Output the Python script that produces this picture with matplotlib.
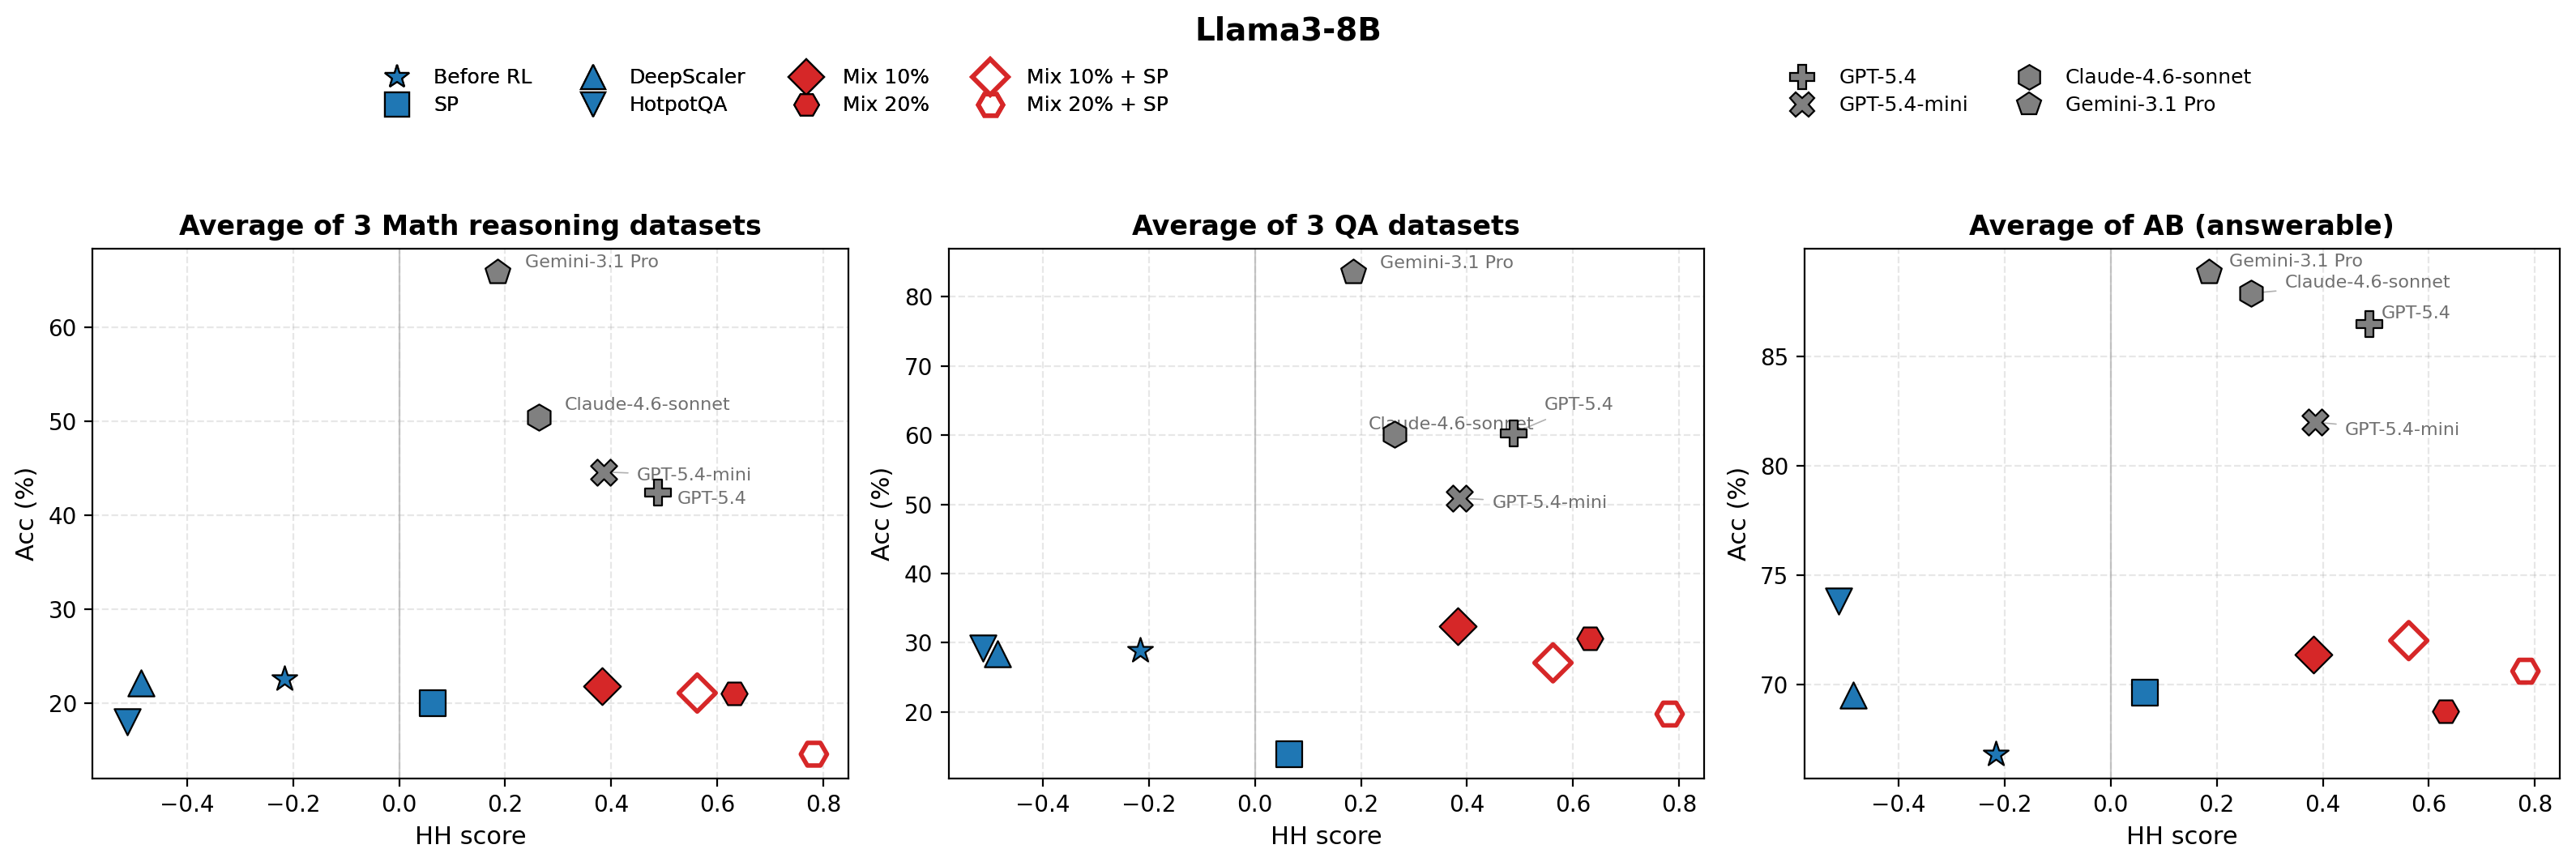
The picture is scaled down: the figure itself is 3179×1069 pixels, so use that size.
import numpy as np
import matplotlib

matplotlib.use("Agg")
import matplotlib.pyplot as plt
from matplotlib.lines import Line2D

# ---- data -------------------------------------------------------------
methods = [
    "Before RL", "SP", "DeepScaler", "HotpotQA",
    "Mix 10%", "Mix 20%", "Mix 10% + SP", "Mix 20% + SP",
    "GPT-5.4", "GPT-5.4-mini", "Claude-4.6-sonnet", "Gemini-3.1 Pro",
]
hh_score = [-0.217, 0.064, -0.486, -0.513, 0.383, 0.631, 0.562, 0.782,
            0.488, 0.386, 0.264, 0.185]

math_acc = [22.6, 20.0, 22.2, 18.0, 21.8, 21.1, 21.1, 14.6, 42.4, 44.6, 50.4, 65.8]
qa_acc = [28.9, 13.9, 28.4, 29.2, 32.4, 30.6, 27.1, 19.7, 60.3, 50.9, 60.1, 83.5]
ab_acc = [66.8, 69.6, 69.5, 73.8, 71.35, 68.75, 72.0, 70.6, 86.5, 82.0, 87.9, 88.85]

panel_titles = [
    "Average of 3 Math reasoning datasets",
    "Average of 3 QA datasets",
    "Average of AB (answerable)",
]
panel_values = [math_acc, qa_acc, ab_acc]
closed_models = ["GPT-5.4", "GPT-5.4-mini", "Claude-4.6-sonnet", "Gemini-3.1 Pro"]

# ---- styles -----------------------------------------------------------
BLUE, RED, GRAY = "#1f77b4", "#d62728", "#808080"
style = {
    "Before RL": dict(marker="*", fc=BLUE),
    "SP": dict(marker="s", fc=BLUE),
    "DeepScaler": dict(marker="^", fc=BLUE),
    "HotpotQA": dict(marker="v", fc=BLUE),
    "Mix 10%": dict(marker="D", fc=RED),
    "Mix 20%": dict(marker="H", fc=RED),
    "Mix 10% + SP": dict(marker="D", fc="none", ec=RED, lw=2.0),
    "Mix 20% + SP": dict(marker="H", fc="none", ec=RED, lw=2.0),
    "GPT-5.4": dict(marker="P", fc=GRAY),
    "GPT-5.4-mini": dict(marker="X", fc=GRAY),
    "Claude-4.6-sonnet": dict(marker="h", fc=GRAY),
    "Gemini-3.1 Pro": dict(marker="p", fc=GRAY),
}

# label offsets (points) for the closed models in each panel, plus leader line flag
label_offsets = [
    {"GPT-5.4": (8.6, -2.9, False), "GPT-5.4-mini": (14.7, -1.6, True),
     "Claude-4.6-sonnet": (11.3, 5.4, False), "Gemini-3.1 Pro": (12.2, 4.3, False)},
    {"GPT-5.4": (13.7, 12.4, True), "GPT-5.4-mini": (14.4, -2.3, True),
     "Claude-4.6-sonnet": (-11.8, 4.5, False), "Gemini-3.1 Pro": (11.8, 4.0, False)},
    {"GPT-5.4": (5.4, 4.7, False), "GPT-5.4-mini": (13.2, -3.6, True),
     "Claude-4.6-sonnet": (15.2, 4.7, True), "Gemini-3.1 Pro": (9.0, 4.7, False)},
]

S = 135

fig, axes = plt.subplots(1, 3, figsize=(15.895, 5.345))
fig.subplots_adjust(left=0.036, right=0.9937, bottom=0.1013, top=0.7131, wspace=0.1327)

for ax, title, vals, offs in zip(axes, panel_titles, panel_values, label_offsets):
    ax.axvline(0, color="#b0b0b0", lw=0.8, alpha=0.7, zorder=1)
    ax.grid(True, linestyle="--", alpha=0.3, zorder=0)
    for m, x, y in zip(methods, hh_score, vals):
        st = style[m]
        ax.scatter(x, y, s=S, marker=st["marker"], facecolors=st["fc"],
                   edgecolors=st.get("ec", "black"), linewidths=st.get("lw", 0.8), zorder=4)
    for m in closed_models:
        i = methods.index(m)
        dx, dy, line = offs[m]
        ax.annotate(m, (hh_score[i], vals[i]), xytext=(dx, dy), textcoords="offset points",
                    fontsize=8, color="#707070", ha="left", va="center", zorder=3,
                    arrowprops=dict(arrowstyle="-", color="#b0b0b0", lw=0.6) if line else None)
    ax.set_title(title, fontsize=12, fontweight="bold")
    ax.set_xlabel("HH score", fontsize=11)
    ax.set_ylabel("Acc (%)", fontsize=11)
    ax.tick_params(labelsize=10)
    ax.set_xticks([-0.4, -0.2, 0.0, 0.2, 0.4, 0.6, 0.8])

# ---- legends ----------------------------------------------------------
def handle(m):
    st = style[m]
    return Line2D([], [], linestyle="none", marker=st["marker"], markersize=11,
                  markerfacecolor=st["fc"], markeredgecolor=st.get("ec", "black"),
                  markeredgewidth=st.get("lw", 0.8), label=m)

open_methods = methods[:8]
leg1 = fig.legend(handles=[handle(m) for m in open_methods], loc="center",
                  bbox_to_anchor=(0.300, 0.894), ncol=4, frameon=False, fontsize=9,
                  columnspacing=2.0, handletextpad=0.8, labelspacing=0.4)
fig.legend(handles=[handle(m) for m in closed_models], loc="center",
           bbox_to_anchor=(0.783, 0.894), ncol=2, frameon=False, fontsize=9,
           columnspacing=2.0, handletextpad=0.8, labelspacing=0.4)
fig.add_artist(leg1)

fig.suptitle("Llama3-8B", fontsize=14, fontweight="bold", y=0.982)

fig.savefig("out.png", dpi=200)
